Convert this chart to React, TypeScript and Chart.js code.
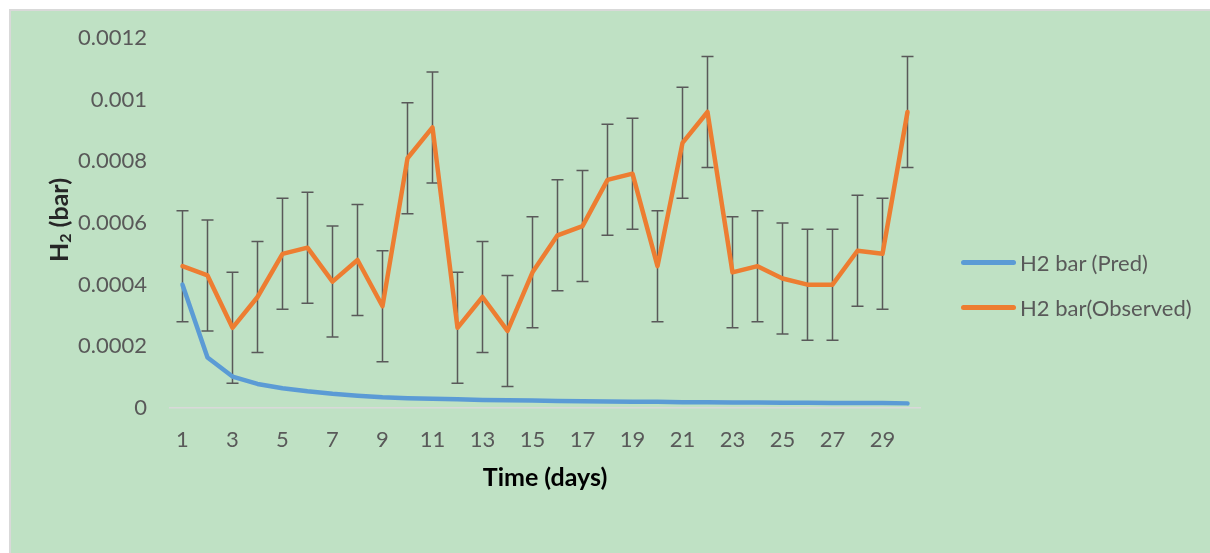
import React, { useEffect, useRef } from "react";
import { Chart, registerables } from "chart.js";

Chart.register(...registerables);

const days = ["1","2","3","4","5","6","7","8","9","10","11","12","13","14","15","16","17","18","19","20","21","22","23","24","25","26","27","28","29","30"];

const predicted = [0.0004, 0.000164, 0.000102, 0.000078, 0.000064, 0.000054, 0.000046, 0.00004, 0.000035, 0.000032, 0.00003, 0.000028, 0.000026, 0.000025, 0.000024, 0.000023, 0.000022, 0.000021, 0.00002, 0.00002, 0.000019, 0.000019, 0.000018, 0.000018, 0.000017, 0.000017, 0.000016, 0.000016, 0.000016, 0.000015];

const observed = [0.00046, 0.00043, 0.00026, 0.00036, 0.0005, 0.00052, 0.00041, 0.00048, 0.00033, 0.00081, 0.00091, 0.00026, 0.00036, 0.00025, 0.00044, 0.00056, 0.00059, 0.00074, 0.00076, 0.00046, 0.00086, 0.00096, 0.00044, 0.00046, 0.00042, 0.0004, 0.0004, 0.00051, 0.0005, 0.00096];

const observedError = [0.00018, 0.00018, 0.00018, 0.00018, 0.00018, 0.00018, 0.00018, 0.00018, 0.00018, 0.00018, 0.00018, 0.00018, 0.00018, 0.00018, 0.00018, 0.00018, 0.00018, 0.00018, 0.00018, 0.00018, 0.00018, 0.00018, 0.00018, 0.00018, 0.00018, 0.00018, 0.00018, 0.00018, 0.00018, 0.00018];

const seriesNames = ["H2 bar (Pred)", "H2 bar(Observed)"];
const seriesColors = ["#5B9BD5", "#ED7D31"];
const yTitleParts = ["H", "2", " (bar)"];

const FONT = "Lato, 'Open Sans', 'DejaVu Sans', sans-serif";

const errorBarPlugin = {
  id: "errorBars",
  beforeDatasetsDraw(chart: any) {
    const { ctx } = chart;
    const xs = chart.scales.x;
    const ys = chart.scales.y;
    ctx.save();
    ctx.strokeStyle = "#595959";
    ctx.lineWidth = 1.5;
    observed.forEach((v, i) => {
      const px = xs.getPixelForValue(i);
      const top = ys.getPixelForValue(v + observedError[i]);
      const bot = ys.getPixelForValue(v - observedError[i]);
      ctx.beginPath();
      ctx.moveTo(px, top);
      ctx.lineTo(px, bot);
      ctx.moveTo(px - 6, top);
      ctx.lineTo(px + 6, top);
      ctx.moveTo(px - 6, bot);
      ctx.lineTo(px + 6, bot);
      ctx.stroke();
    });
    ctx.restore();
  },
};

// Y-axis title with a real subscript "2"
const yTitlePlugin = {
  id: "yTitle",
  afterDraw(chart: any) {
    const { ctx } = chart;
    const ys = chart.scales.y;
    const cy = (ys.top + ys.bottom) / 2 - 3;
    const cx = 60;
    const big = `bold 25px ${FONT}`;
    const small = `bold 16px ${FONT}`;
    ctx.save();
    ctx.fillStyle = "#262626";
    ctx.font = big;
    const wH = ctx.measureText(yTitleParts[0]).width;
    const wRest = ctx.measureText(yTitleParts[2]).width;
    ctx.font = small;
    const w2 = ctx.measureText(yTitleParts[1]).width;
    const total = wH + w2 + wRest;
    ctx.translate(cx, cy);
    ctx.rotate(-Math.PI / 2);
    ctx.textBaseline = "middle";
    ctx.textAlign = "left";
    let x = -total / 2;
    ctx.font = big;
    ctx.fillText(yTitleParts[0], x, 0);
    x += wH;
    ctx.font = small;
    ctx.fillText(yTitleParts[1], x, 6);
    x += w2;
    ctx.font = big;
    ctx.fillText(yTitleParts[2], x, 0);
    ctx.restore();
  },
};

export default function App() {
  const ref = useRef<HTMLCanvasElement | null>(null);

  useEffect(() => {
    if (!ref.current) return;
    const chart = new Chart(ref.current, {
      type: "line",
      data: {
        labels: days,
        datasets: [
          {
            label: seriesNames[0],
            data: predicted,
            borderColor: seriesColors[0],
            backgroundColor: seriesColors[0],
            borderWidth: 4.5,
            pointRadius: 0,
            borderCapStyle: "round",
            borderJoinStyle: "round",
            tension: 0,
          },
          {
            label: seriesNames[1],
            data: observed,
            borderColor: seriesColors[1],
            backgroundColor: seriesColors[1],
            borderWidth: 4.5,
            pointRadius: 0,
            borderCapStyle: "round",
            borderJoinStyle: "round",
            tension: 0,
          },
        ],
      },
      options: {
        animation: false,
        responsive: false,
        maintainAspectRatio: false,
        layout: { padding: { left: 0, right: 290, top: 38, bottom: 45 } },
        plugins: {
          legend: { display: false },
          tooltip: { enabled: false },
        },
        scales: {
          x: {
            type: "category",
            offset: true,
            grid: { display: false, drawTicks: false },
            border: { display: true, color: "#D9D9D9", width: 1.5 },
            ticks: {
              autoSkip: false,
              maxRotation: 0,
              padding: 19,
              color: "#595959",
              font: { family: FONT, size: 22 },
              callback: (_v: any, i: number) => (i % 2 === 0 ? days[i] : ""),
            },
            title: {
              display: true,
              text: "Time (days)",
              color: "#000000",
              font: { family: FONT, size: 25, weight: "bold" },
              padding: { top: 0, bottom: 15 },
            },
            afterFit: (s: any) => {
              s.height = 100;
            },
          },
          y: {
            min: 0,
            max: 0.0012,
            grid: { display: false, drawTicks: false },
            border: { display: false },
            ticks: {
              stepSize: 0.0002,
              padding: 23,
              color: "#595959",
              font: { family: FONT, size: 22 },
              callback: (v: any) => String(parseFloat(Number(v).toFixed(4))),
            },
            title: { display: false },
            afterFit: (s: any) => {
              s.width = 170;
            },
          },
        },
      },
      plugins: [errorBarPlugin, yTitlePlugin],
    } as any);
    return () => chart.destroy();
  }, []);

  const legendItem = (i: number, top: number) => (
    <div
      key={i}
      style={{
        position: "absolute",
        left: 961,
        top: top - 15,
        height: 30,
        display: "flex",
        alignItems: "center",
        fontFamily: FONT,
        fontSize: 22,
        color: "#595959",
        whiteSpace: "nowrap",
      }}
    >
      <span
        style={{
          display: "inline-block",
          width: 55,
          height: 5,
          borderRadius: 3,
          background: seriesColors[i],
          marginRight: 4,
        }}
      />
      <span>{seriesNames[i]}</span>
    </div>
  );

  return (
    <div style={{ position: "fixed", left: 0, top: 0, width: 1210, height: 553, background: "#ffffff", overflow: "hidden" }}>
      <div
        style={{
          position: "absolute",
          left: 9,
          top: 9,
          width: 1210,
          height: 553,
          background: "rgb(191,225,196)",
          borderLeft: "2px solid #D9D9D9",
          borderTop: "2px solid #D9D9D9",
        }}
      />
      <canvas ref={ref} width={1210} height={553} style={{ position: "absolute", left: 0, top: 0, width: 1210, height: 553 }} />
      {legendItem(0, 262)}
      {legendItem(1, 307)}
    </div>
  );
}
